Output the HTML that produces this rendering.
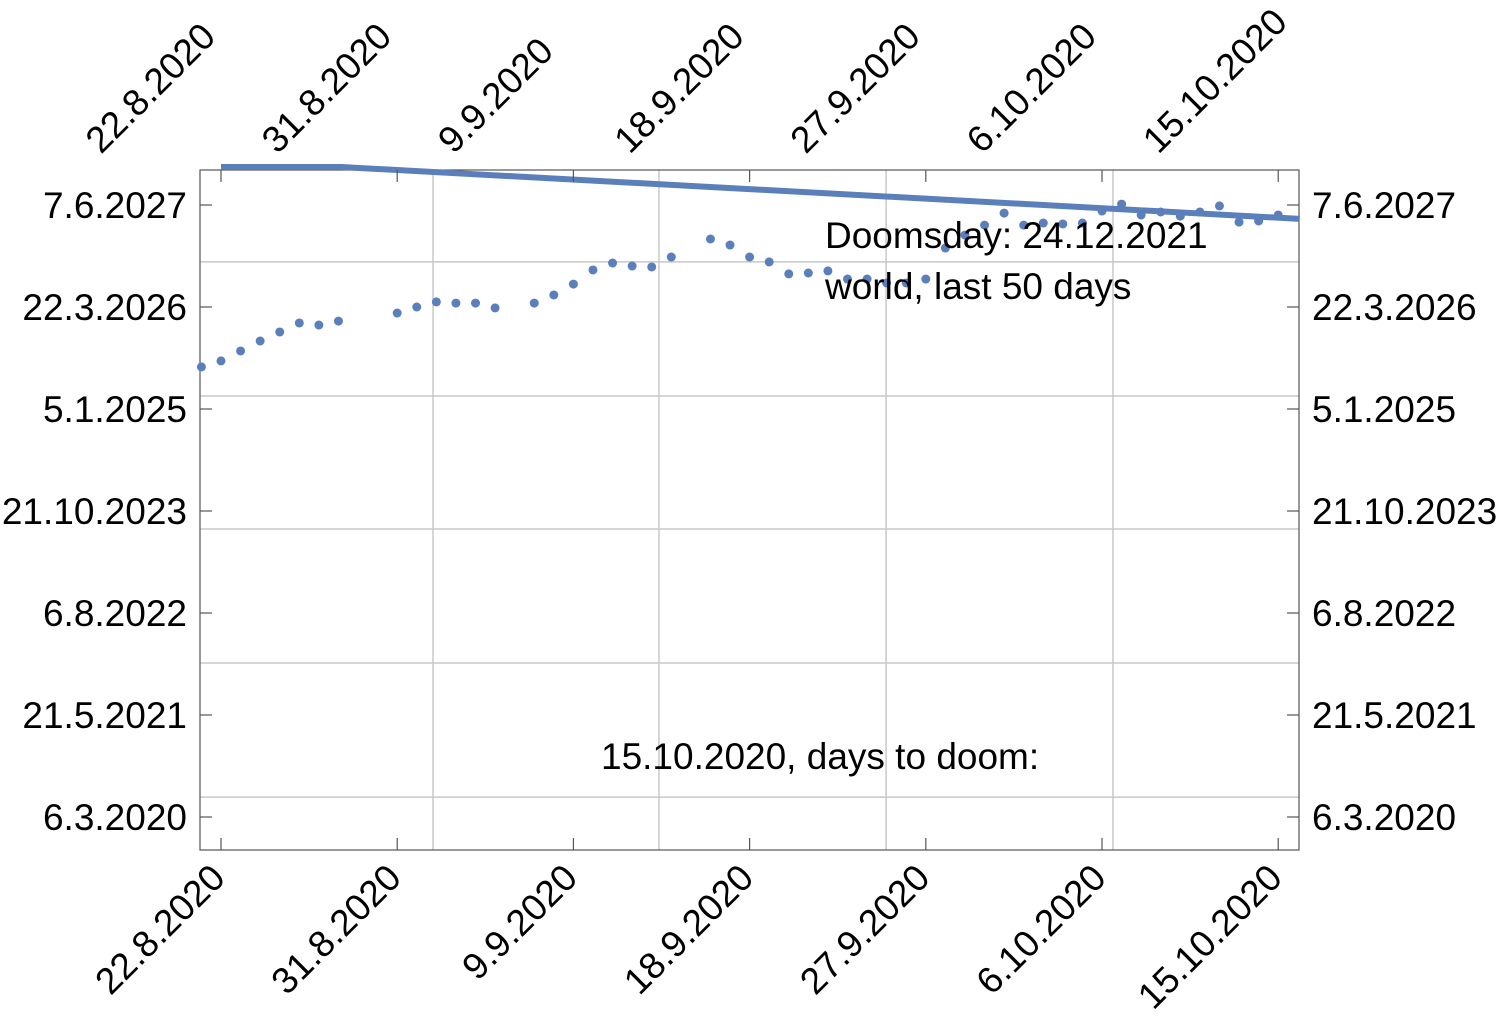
<!DOCTYPE html>
<html><head><meta charset="utf-8"><style>
body{margin:0;background:#fff}
svg text{font-family:"Liberation Sans",Arial,sans-serif;font-size:37px;fill:#000}
</style></head><body>
<svg id="chart" width="1500" height="1025" viewBox="0 0 1500 1025" xmlns="http://www.w3.org/2000/svg">
<g id="grid"></g>
<rect x="200" y="170" width="1099" height="680" fill="none" stroke="#555" stroke-width="1.2"/>
<g id="series"></g>
<g id="axes"></g>
<text x="825" y="248">Doomsday: 24.12.2021</text>
<text x="825" y="299">world, last 50 days</text>
<text x="601" y="769">15.10.2020, days to doom:</text>
</svg>
<script>
// x: day index from 22.8.2020; y: days from 6.3.2020
const xTickLabels=["22.8.2020","31.8.2020","9.9.2020","18.9.2020","27.9.2020","6.10.2020","15.10.2020"];
const xTickDays=[0,9,18,27,36,45,54];
const yTickLabels=["6.3.2020","21.5.2021","6.8.2022","21.10.2023","5.1.2025","22.3.2026","7.6.2027"];
const yTickDays=[0,441,882,1323,1764,2205,2646];
const xGrid=[10.83,22.37,33.97,45.56];
const yGrid=[86,666,1245,1820,2400];
const dotDays=[-1,0,1,2,3,4,5,6,9,10,11,12,13,14,16,17,18,19,20,21,22,23,25,26,27,28,29,30,31,32,33,34,35,36,37,38,39,40,41,42,43,44,45,46,47,48,49,50,51,52,53,54];
const dotValues=[1946,1972,2015,2058,2097,2136,2127,2144,2179,2205,2227,2222,2222,2201,2222,2257,2304,2365,2395,2382,2378,2421,2499,2473,2421,2400,2348,2352,2361,2326,2326,2309,2309,2326,2460,2516,2559,2611,2559,2568,2564,2568,2620,2650,2603,2616,2598,2616,2642,2572,2577,2603];
const lineDays=[0,6,55.1];
const lineValues=[2811,2811,2586];

const X=d=>221+d*19.578;
const Y=v=>817-v*102/441;
const NS="http://www.w3.org/2000/svg";
function mk(tag,attrs,parent){const e=document.createElementNS(NS,tag);for(const k in attrs)e.setAttribute(k,attrs[k]);parent.appendChild(e);return e;}
const grid=document.getElementById('grid'),series=document.getElementById('series'),axes=document.getElementById('axes');
xGrid.forEach(d=>{const l=mk('line',{x1:X(d),x2:X(d),y1:170,y2:850,stroke:'#c8c8c8','stroke-width':1.5},grid);

});
yGrid.forEach(v=>{const l=mk('line',{x1:200,x2:1299,y1:Y(v),y2:Y(v),stroke:'#c8c8c8','stroke-width':1.5},grid);

});
const cp=mk('clipPath',{id:'clip'},series);mk('rect',{x:200,y:164,width:1100,height:687},cp);
const pl=mk('polyline',{points:lineDays.map((d,i)=>X(d)+','+Y(lineValues[i])).join(' '),fill:'none',stroke:'#5b7fbb','stroke-width':6,'clip-path':'url(#clip)'},series);


dotDays.forEach((d,i)=>{const c=mk('circle',{cx:X(d),cy:Y(dotValues[i]),r:4.5,fill:'#5b7fbb'},series);

});
xTickDays.forEach((d,i)=>{const x=X(d);
mk('line',{x1:x,x2:x,y1:850,y2:838,stroke:'#555','stroke-width':1.2},axes);
mk('line',{x1:x,x2:x,y1:170,y2:182,stroke:'#555','stroke-width':1.2},axes);
const b=mk('text',{x:0,y:0,'text-anchor':'end',transform:`translate(${x+6},${880}) rotate(-45)`},axes);b.textContent=xTickLabels[i];


const t=mk('text',{x:0,y:0,'text-anchor':'start',transform:`translate(${x-120},${155}) rotate(-45)`},axes);t.textContent=xTickLabels[i];

});
yTickDays.forEach((v,i)=>{const y=Y(v);
mk('line',{x1:200,x2:212,y1:y,y2:y,stroke:'#555','stroke-width':1.2},axes);
mk('line',{x1:1299,x2:1287,y1:y,y2:y,stroke:'#555','stroke-width':1.2},axes);
const l=mk('text',{x:187,y:y+13,'text-anchor':'end'},axes);l.textContent=yTickLabels[i];


const r=mk('text',{x:1312,y:y+13,'text-anchor':'start'},axes);r.textContent=yTickLabels[i];

});
</script>
</body></html>
